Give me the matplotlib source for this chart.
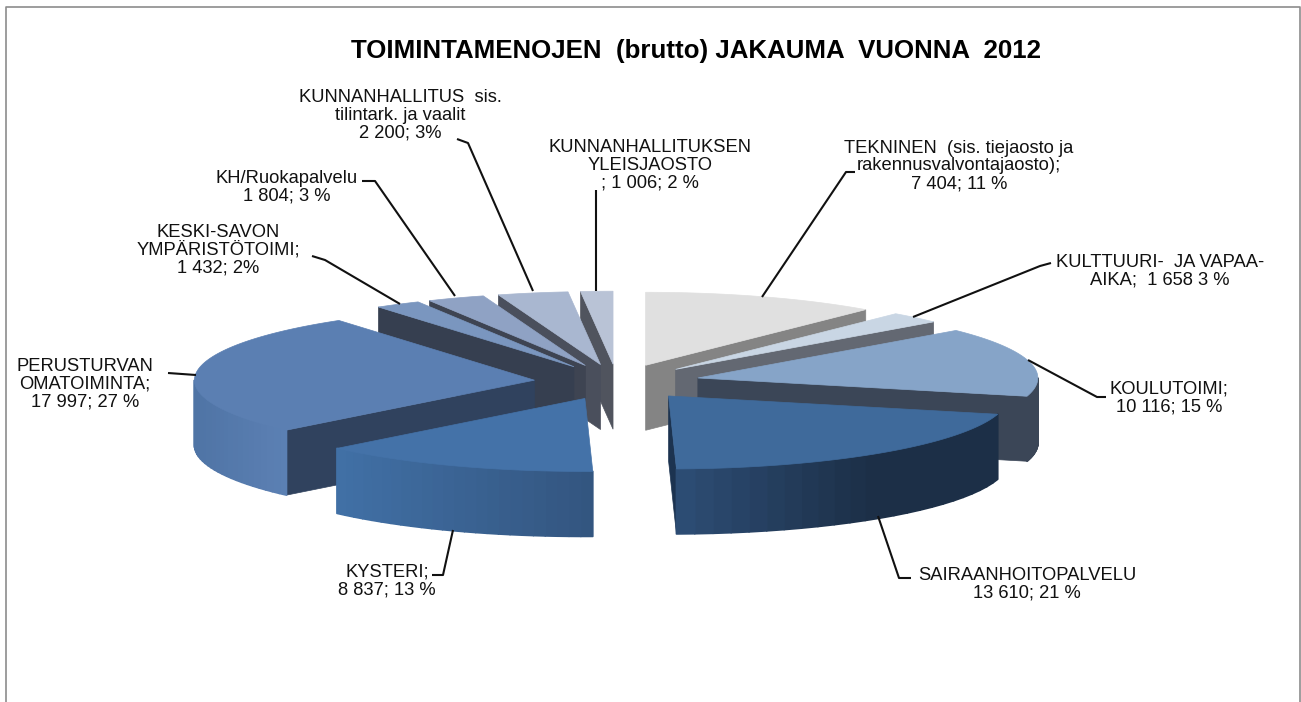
import numpy as np
import matplotlib
matplotlib.use('Agg')
import matplotlib.pyplot as plt
from matplotlib.collections import PolyCollection
from matplotlib.colors import to_rgb

plt.rcParams['font.family'] = ['Liberation Sans', 'DejaVu Sans']

# data, clockwise from 12 o'clock
names = ['TEKNINEN', 'KULTTUURI', 'KOULUTOIMI', 'SAIRAANHOITOPALVELU', 'KYSTERI',
         'PERUSTURVAN', 'KESKI-SAVON', 'KH/Ruokapalvelu', 'KUNNANHALLITUS', 'KHYLEISJAOSTO']
values = [7404, 1658, 10116, 13610, 8837, 17997, 1432, 1804, 2200, 1006]

labels = ['TEKNINEN  (sis. tiejaosto ja\nrakennusvalvontajaosto);\n7 404; 11 %',
          'KULTTUURI-  JA VAPAA-\nAIKA;  1 658 3 %',
          'KOULUTOIMI;\n10 116; 15 %',
          'SAIRAANHOITOPALVELU\n13 610; 21 %',
          'KYSTERI;\n8 837; 13 %',
          'PERUSTURVAN\nOMATOIMINTA;\n17 997; 27 %',
          'KESKI-SAVON\nYMPÄRISTÖTOIMI;\n1 432; 2%',
          'KH/Ruokapalvelu\n1 804; 3 %',
          'KUNNANHALLITUS  sis.\ntilintark. ja vaalit\n2 200; 3%',
          'KUNNANHALLITUKSEN\nYLEISJAOSTO\n; 1 006; 2 %']
label_xy = [(959, 166), (1160, 271), (1169, 398), (1027, 584), (387, 581),
            (85, 384), (218, 250), (287, 187), (400, 115), (650, 165)]

# leader lines: rim point, elbow, end next to the label
leaders = [[(762, 297), (846, 172), (855, 172)],
           [(913, 317), (1040, 266), (1051, 263)],
           [(1028, 360), (1097, 397), (1106, 397)],
           [(878, 516), (899, 578), (911, 578)],
           [(453, 530), (443, 575), (432, 575)],
           [(196, 375), (168, 373)],
           [(400, 304), (325, 260), (312, 256)],
           [(455, 296), (375, 181), (362, 181)],
           [(533, 291), (468, 143), (457, 139)],
           [(596, 291), (596, 190)]]

top_cols = ['#e0e0e0', '#c9d6e4', '#86a4c8', '#3f6a9b', '#4472a8',
            '#5b7fb2', '#7a96bf', '#8fa2c4', '#a9b7d0', '#b9c3d6']
face_cols = ['#848484', '#636872', '#3b4657', '#1c3350', '#33527e',
             '#30425e', '#363f50', '#3e4452', '#4a4f5c', '#50545e']
wall_cols = [('#848484', '#848484'), ('#636872', '#636872'), ('#3b4657', '#3b4657'),
             ('#2d4d75', '#1c2f47'), ('#4170a6', '#33557f'), ('#4f74a5', '#5c80b4'),
             ('#363f50', '#363f50'), ('#3e4452', '#3e4452'), ('#4a4f5c', '#4a4f5c'),
             ('#50545e', '#50545e')]

# pie geometry in pixels
cx, cy = 617, 382
rx, ry = 340, 73
explode = 83
depth = 65

values = np.array(values, dtype=float)
edges = np.concatenate([[0], np.cumsum(values)]) / values.sum() * 2 * np.pi


def rim(ax0, ay0, a):
    x = ax0 + rx * np.sin(a)
    y = ay0 - ry * np.cos(a)
    return x, y


fig = plt.figure(figsize=(13.01, 7.02), dpi=100)
ax = fig.add_axes([0, 0, 1, 1])
ax.set_xlim(0, 1301)
ax.set_ylim(702, 0)
ax.axis('off')

# frame, open at the bottom
ax.plot([5.5, 5.5, 1300, 1300], [702, 6.5, 6.5, 702], color='#8c8c8c', lw=1.2)

mids = (edges[:-1] + edges[1:]) / 2
order = np.argsort(-np.cos(mids))

for n, i in enumerate(order):
    a0, a1, mid = edges[i], edges[i + 1], mids[i]
    ax0 = cx + explode * np.sin(mid)
    ay0 = cy - explode * ry / rx * np.cos(mid)
    z = 2 + n * 0.1

    # the cut face that looks towards the viewer
    a_face = a1 if np.sin(a1) > 0 and a1 < np.pi else a0
    if (a_face == a1) or np.sin(a0) < 0:
        ex, ey = rim(ax0, ay0, a_face)
        ax.fill([ax0, ex, ex, ax0], [ay0, ey, ey + depth, ay0 + depth],
                color=face_cols[i], lw=0.5, zorder=z)

    # outer wall, only the front half of the rim
    w0, w1 = max(a0, np.pi / 2), min(a1, 3 * np.pi / 2)
    if w1 > w0:
        t = np.linspace(w0, w1, 25)
        x, y = rim(ax0, ay0, t)
        quads, cols = [], []
        c_l, c_r = np.array(to_rgb(wall_cols[i][0])), np.array(to_rgb(wall_cols[i][1]))
        xmin, xmax = x.min(), x.max()
        for k in range(len(t) - 1):
            quads.append([(x[k], y[k]), (x[k + 1], y[k + 1]),
                          (x[k + 1], y[k + 1] + depth), (x[k], y[k] + depth)])
            f = ((x[k] + x[k + 1]) / 2 - xmin) / (xmax - xmin)
            if i == 3:
                f = min(1, f / 0.6)
            cols.append(c_l + (c_r - c_l) * f)
        ax.add_collection(PolyCollection(quads, facecolors=cols, edgecolors=cols,
                                         linewidths=1.2, zorder=z + 0.01))

    # top
    t = np.linspace(a0, a1, 80)
    x, y = rim(ax0, ay0, t)
    ax.fill(np.r_[ax0, x], np.r_[ay0, y], color=top_cols[i], lw=0.5, zorder=z + 0.02)

for pts in leaders:
    xs, ys = zip(*pts)
    ax.plot(xs, ys, color='#111111', lw=1.5, zorder=5, solid_capstyle='butt')

for txt, (tx, ty) in zip(labels, label_xy):
    ax.text(tx, ty, txt, ha='center', va='center', fontsize=13.2, linespacing=1.05,
            color='#111111', zorder=6)

ax.text(696, 51, 'TOIMINTAMENOJEN  (brutto) JAKAUMA  VUONNA  2012', ha='center', va='center',
        fontsize=18.6, fontweight='bold', color='black', zorder=6)

fig.savefig('out.png', dpi=100)
